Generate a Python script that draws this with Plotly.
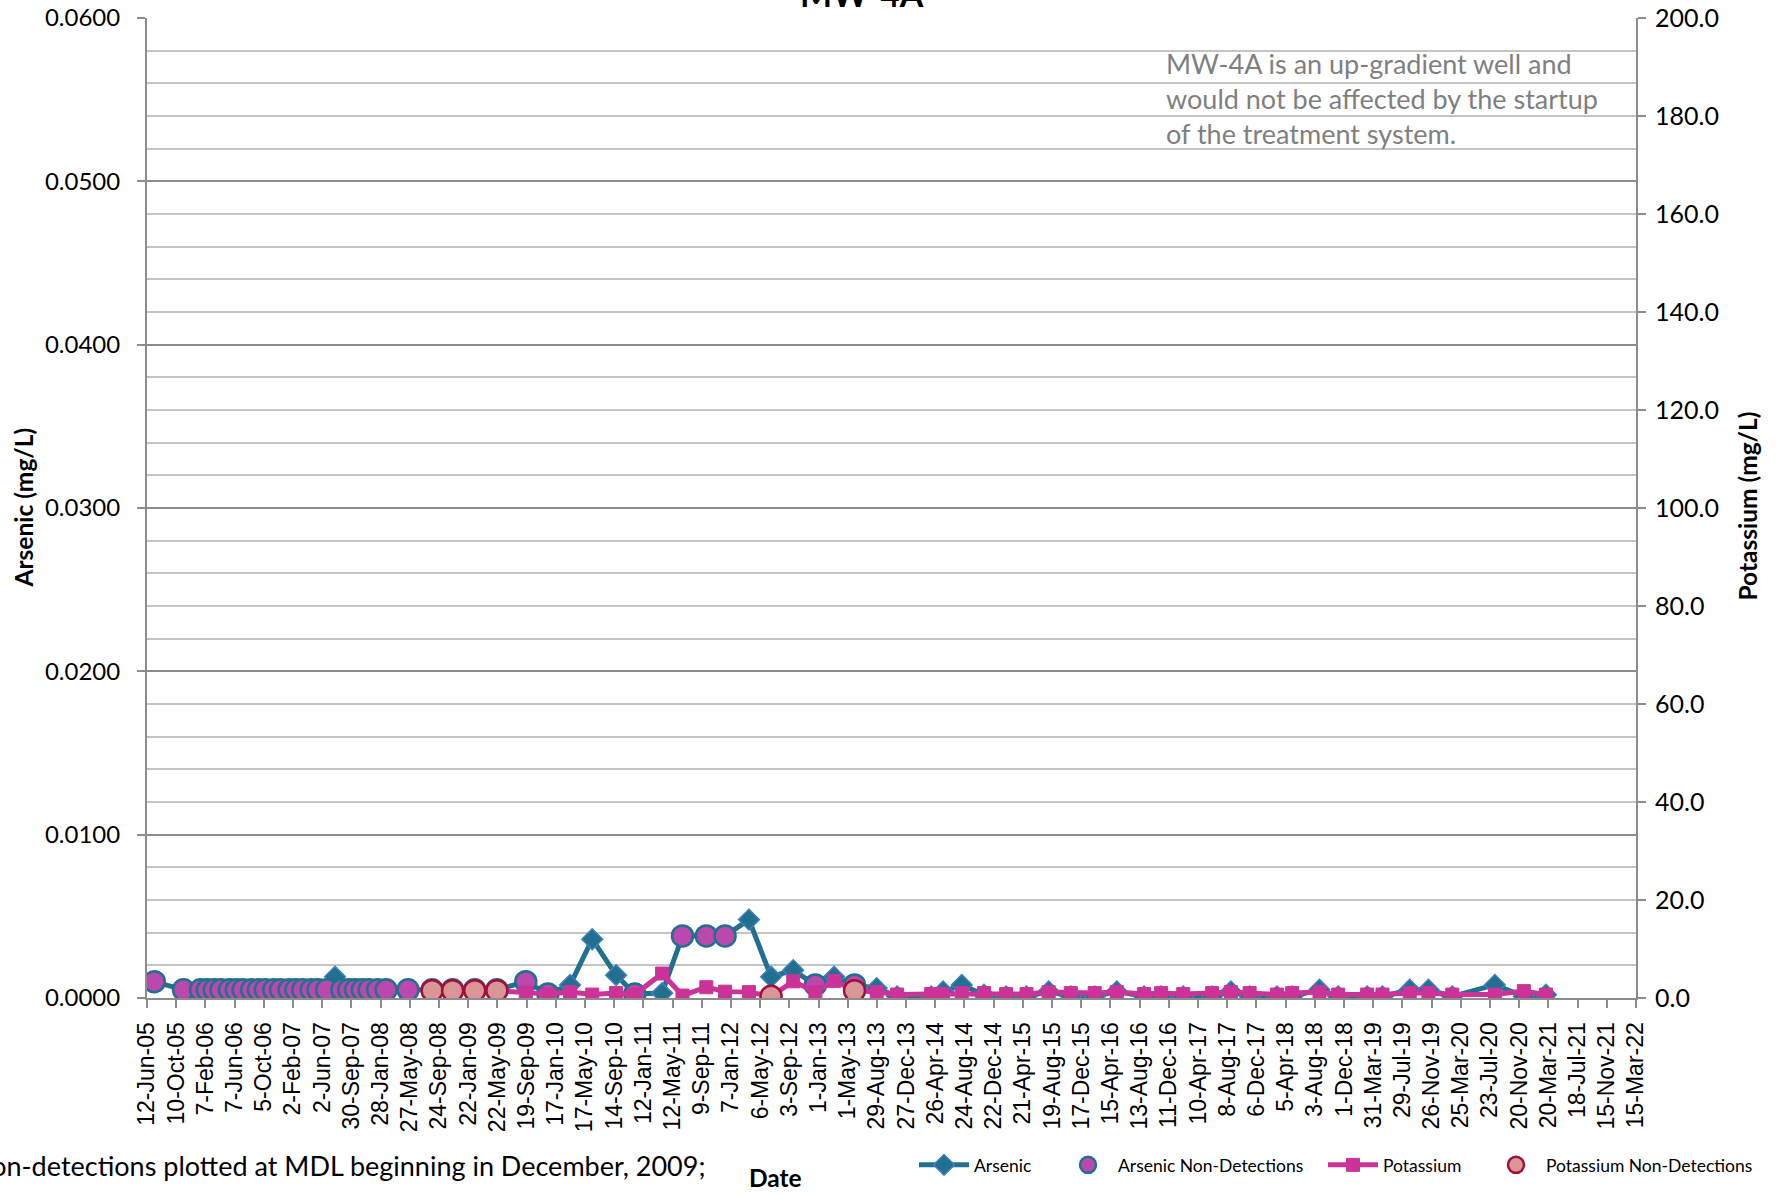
import plotly.graph_objects as go

# ---- Monitoring well MW-4A sampling results ----
sample_dates = [
    "2005-07-12", "2005-11-09",
    "2006-01-18", "2006-02-15", "2006-03-15", "2006-04-12", "2006-05-17", "2006-06-14",
    "2006-07-12", "2006-08-16", "2006-09-13", "2006-10-11", "2006-11-15", "2006-12-13",
    "2007-01-17", "2007-02-14", "2007-03-14", "2007-04-18", "2007-05-16", "2007-06-20",
    "2007-07-25", "2007-08-22", "2007-09-19", "2007-10-17", "2007-11-14", "2007-12-12",
    "2008-01-16", "2008-02-20", "2008-05-20", "2008-08-27", "2008-11-19", "2009-02-18",
    "2009-05-20", "2009-09-16", "2009-12-16", "2010-03-17", "2010-06-16", "2010-09-22",
    "2010-12-08", "2011-03-30", "2011-06-22", "2011-09-28", "2011-12-14", "2012-03-21",
    "2012-06-20", "2012-09-19", "2012-12-19", "2013-03-06", "2013-05-29", "2013-08-28",
    "2013-11-20", "2014-04-09", "2014-05-28", "2014-08-13", "2014-11-12", "2015-02-11",
    "2015-05-06", "2015-08-05", "2015-11-04", "2016-02-10", "2016-05-11", "2016-08-31",
    "2016-11-09", "2017-02-08", "2017-06-07", "2017-08-23", "2017-11-08", "2018-02-28",
    "2018-05-02", "2018-08-22", "2018-11-07", "2019-03-06", "2019-05-08", "2019-08-28",
    "2019-11-13", "2020-02-19", "2020-08-12", "2020-12-09", "2021-03-10",
]

# Arsenic (mg/L)
arsenic = [
    0.0010, 0.0005,
    0.0005, 0.0005, 0.0005, 0.0005, 0.0005, 0.0005,
    0.0005, 0.0005, 0.0005, 0.0005, 0.0005, 0.0005,
    0.0005, 0.0005, 0.0005, 0.0005, 0.0005, 0.0005,
    0.0013, 0.0005, 0.0005, 0.0005, 0.0005, 0.0005,
    0.0005, 0.0005, 0.0005, 0.0005, 0.0005, 0.0005,
    0.0005, 0.0010, 0.00025, 0.0008, 0.0036, 0.0014,
    0.00025, 0.0003, 0.0038, 0.0038, 0.0038, 0.0048,
    0.0013, 0.0017, 0.0008, 0.0013, 0.0008, 0.0006,
    0.0001, 0.0001, 0.0004, 0.0008, 0.0002, 0.0001,
    0.0001, 0.0004, 0.0001, 0.0001, 0.0004, 0.0001,
    0.0001, 0.0001, 0.0001, 0.0004, 0.0001, 0.0001,
    0.0001, 0.0005, 0.0001, 0.0001, 0.0001, 0.0005,
    0.0005, 0.0001, 0.0008, 0.0001, 0.0002,
]

# 1 = arsenic not detected (plotted at detection limit)
arsenic_nd = [
    1, 1,
    1, 1, 1, 1, 1, 1,
    1, 1, 1, 1, 1, 1,
    1, 1, 1, 1, 1, 1,
    0, 1, 1, 1, 1, 1,
    1, 1, 1, 1, 1, 1,
    1, 1, 1, 0, 0, 0,
    1, 0, 1, 1, 1, 0,
    0, 0, 1, 0, 1, 0,
    0, 0, 0, 0, 0, 0,
    0, 0, 0, 0, 0, 0,
    0, 0, 0, 0, 0, 0,
    0, 0, 0, 0, 0, 0,
    0, 0, 0, 0, 0,
]

# Potassium (mg/L); None where potassium was not analysed
potassium = [
    None, None,
    None, None, None, None, None, None,
    None, None, None, None, None, None,
    None, None, None, None, None, None,
    None, None, None, None, None, None,
    None, None, None, 1.5, 1.5, 1.5,
    1.5, 1.1, 0.8, 1.2, 0.7, 1.0,
    0.7, 5.0, 0.5, 2.2, 1.3, 1.2,
    0.35, 3.4, 1.2, 3.5, 1.5, 1.2,
    0.7, 0.8, 0.8, 1.0, 1.0, 0.8,
    0.8, 1.2, 1.0, 1.0, 1.2, 0.8,
    1.0, 0.8, 1.0, 1.2, 1.0, 0.7,
    1.0, 1.2, 0.7, 0.7, 0.7, 1.0,
    1.0, 0.7, 0.7, 1.4, 0.7,
]

# 1 = potassium not detected
potassium_nd = [
    0, 0,
    0, 0, 0, 0, 0, 0,
    0, 0, 0, 0, 0, 0,
    0, 0, 0, 0, 0, 0,
    0, 0, 0, 0, 0, 0,
    0, 0, 0, 1, 1, 1,
    1, 0, 0, 0, 0, 0,
    0, 0, 0, 0, 0, 0,
    1, 0, 0, 0, 1, 0,
    0, 0, 0, 0, 0, 0,
    0, 0, 0, 0, 0, 0,
    0, 0, 0, 0, 0, 0,
    0, 0, 0, 0, 0, 0,
    0, 0, 0, 0, 0,
]

# Axis settings
x_start, x_end = "2005-06-12", "2022-03-15"
tick_step_days = 120
arsenic_range = [0, 0.06]
potassium_range = [0, 200]

title_text = "MW-4A"
note_lines = [
    "MW-4A is an up-gradient well and",
    "would not be affected by the startup",
    "of the treatment system.",
]
footnote = "Non-detections plotted at MDL beginning in December, 2009;"

# ---- Styling ----
TEAL = "#21708F"
TEAL_EDGE = "#3F7FBF"
PURPLE = "#BB48AC"
PINK = "#CC3399"
SALMON = "#D99694"
CRIMSON = "#A0103E"
GRID_MAJOR = "#8C8C8C"
GRID_MINOR = "#C4C4C4"
AXIS_GRAY = "#8C8C8C"
CAL = "Lato, 'Open Sans', sans-serif"

W, H = 1779, 1195
ML, MR, MT, MB = 147, 143, 18, 194
PW, PH = W - ML - MR, H - MT - MB


def px_x(x):
    return (x - ML) / PW


def px_y(y):
    return 1 - (y - MT) / PH


as_nd_x = [d for d, f in zip(sample_dates, arsenic_nd) if f]
as_nd_y = [v for v, f in zip(arsenic, arsenic_nd) if f]
k_nd_x = [d for d, f in zip(sample_dates, potassium_nd) if f]
k_nd_y = [v for v, f in zip(potassium, potassium_nd) if f]

fig = go.Figure()

fig.add_trace(go.Scatter(
    x=sample_dates, y=arsenic, name="Arsenic", mode="lines+markers",
    line=dict(color=TEAL, width=5),
    marker=dict(symbol="diamond", size=16, color=TEAL, line=dict(color=TEAL_EDGE, width=1.5)),
    legend="legend", yaxis="y",
))
fig.add_trace(go.Scatter(
    x=as_nd_x, y=as_nd_y, name="Arsenic Non-Detections", mode="markers",
    marker=dict(symbol="circle", size=21, color=PURPLE, line=dict(color=TEAL, width=2.5)),
    legend="legend2", yaxis="y",
))
fig.add_trace(go.Scatter(
    x=sample_dates, y=potassium, name="Potassium", mode="lines+markers",
    line=dict(color=PINK, width=5),
    marker=dict(symbol="square", size=13, color=PINK, line=dict(color=PINK, width=1)),
    legend="legend3", yaxis="y2",
))
fig.add_trace(go.Scatter(
    x=k_nd_x, y=k_nd_y, name="Potassium Non-Detections", mode="markers",
    marker=dict(symbol="circle", size=21, color=SALMON, line=dict(color=CRIMSON, width=2.5)),
    legend="legend4", yaxis="y2",
))

legend_common = dict(
    orientation="h", yanchor="middle", xanchor="left",
    bgcolor="rgba(0,0,0,0)", borderwidth=0, itemwidth=50,
    font=dict(family=CAL, size=17.5, color="#000000"),
)
leg_y = px_y(1168.5)

fig.update_layout(
    width=W, height=H, autosize=False,
    margin=dict(l=ML, r=MR, t=MT, b=MB, pad=0),
    paper_bgcolor="white", plot_bgcolor="white",
    showlegend=True,
    legend=dict(x=px_x(914), y=leg_y, **legend_common),
    legend2=dict(x=px_x(1058), y=leg_y, **legend_common),
    legend3=dict(x=px_x(1323), y=leg_y, **legend_common),
    legend4=dict(x=px_x(1486), y=leg_y, **legend_common),
    xaxis=dict(
        type="date", range=[x_start, x_end], automargin=False,
        tick0=x_start, dtick=tick_step_days * 86400000,
        tickformat="%-d-%b-%y", tickangle=-90,
        ticks="outside", ticklen=8, tickwidth=1.5, tickcolor=AXIS_GRAY,
        showline=True, linecolor=AXIS_GRAY, linewidth=2,
        showgrid=False, zeroline=False,
        tickfont=dict(family="Liberation Sans, Arial, sans-serif", size=23, color="#000000"),
        ticklabelstandoff=5,
    ),
    yaxis=dict(
        range=arsenic_range, dtick=0.01, tickformat=".4f", automargin=False,
        ticks="outside", ticklen=8, tickwidth=1.5, tickcolor=AXIS_GRAY,
        showline=True, linecolor=AXIS_GRAY, linewidth=2,
        showgrid=True, gridcolor=GRID_MAJOR, gridwidth=2,
        minor=dict(dtick=0.002, showgrid=True, gridcolor=GRID_MINOR, gridwidth=1.5, ticks=""),
        zeroline=False,
        tickfont=dict(family=CAL, size=24, color="#000000"),
        ticklabelstandoff=12,
    ),
    yaxis2=dict(
        range=potassium_range, dtick=20, tickformat=".1f", automargin=False,
        overlaying="y", side="right",
        ticks="outside", ticklen=8, tickwidth=1.5, tickcolor=AXIS_GRAY,
        showline=True, linecolor=AXIS_GRAY, linewidth=2,
        showgrid=False, zeroline=False,
        tickfont=dict(family=CAL, size=25, color="#000000"),
        ticklabelstandoff=4,
    ),
)

annotations = [
    # chart title (sits at the very top edge of the page)
    dict(text="<b>" + title_text + "</b>", x=px_x(862), y=px_y(15.5), xanchor="center", yanchor="bottom",
         font=dict(family=CAL, size=34, color="#000000")),
    # axis titles
    dict(text="<b>Arsenic (mg/L)</b>", x=px_x(24), y=px_y(509), textangle=-90,
         xanchor="center", yanchor="middle", font=dict(family=CAL, size=24.5, color="#000000")),
    dict(text="<b>Potassium (mg/L)</b>", x=px_x(1748), y=px_y(508), textangle=-90,
         xanchor="center", yanchor="middle", font=dict(family=CAL, size=24.5, color="#000000")),
    dict(text="<b>Date</b>", x=px_x(775), y=px_y(1181), xanchor="center", yanchor="middle",
         font=dict(family=CAL, size=24.5, color="#000000")),
    # footnote
    dict(text=footnote, x=px_x(707), y=px_y(1169), xanchor="right", yanchor="middle",
         font=dict(family=CAL, size=27, color="#000000")),
]
for line, yc in zip(note_lines, [63.5, 98.7, 133.9]):
    annotations.append(dict(text=line, x=px_x(1164), y=px_y(yc), xanchor="left", yanchor="middle",
                            font=dict(family=CAL, size=27, color="#7F7F7F")))

for a in annotations:
    a.update(xref="paper", yref="paper", showarrow=False)
fig.update_layout(annotations=annotations)

fig.write_html("out.html")
